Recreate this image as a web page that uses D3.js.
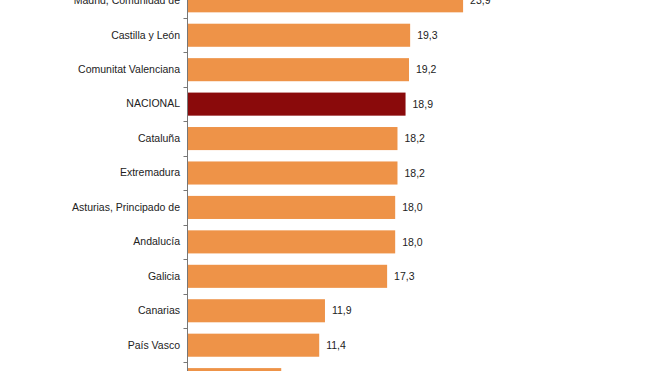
<!DOCTYPE html>
<html>
<head>
<meta charset="utf-8">
<script src="https://cdn.jsdelivr.net/npm/d3@7"></script>
<style>
html,body{margin:0;padding:0;background:#fff;}
svg{display:block;}
</style>
</head>
<body>
<svg id="chart" width="659" height="371"></svg>
<script>
const categories = ["Madrid, Comunidad de","Castilla y León","Comunitat Valenciana","NACIONAL","Cataluña","Extremadura","Asturias, Principado de","Andalucía","Galicia","Canarias","País Vasco","Navarra, Comunidad Foral de"];
const values = [23.9,19.3,19.2,18.9,18.2,18.2,18.0,18.0,17.3,11.9,11.4,8.1];
const highlight = ["NACIONAL"];

const svg = d3.select("#chart");
const step = 34.44;
const y0 = 0.8 - step/2;
const y = d3.scaleBand().domain(categories).range([y0, y0 + step*categories.length]).paddingInner(0.33).paddingOuter(0.165);
const x = d3.scaleLinear().domain([0, 25]).range([188, 188 + 25*11.51]);

const data = categories.map((c,i)=>({c, v: values[i]}));
const FONT = "Liberation Sans, Arial, sans-serif";

svg.selectAll("rect.bar").data(data).enter().append("rect")
  .attr("class","bar")
  .attr("x", x(0))
  .attr("y", d=>y(d.c))
  .attr("width", d=>x(d.v)-x(0))
  .attr("height", y.bandwidth())
  .attr("fill", d=> highlight.includes(d.c) ? "#8A0A0B" : "#EE9348");

svg.selectAll("text.val").data(data).enter().append("text")
  .attr("class","val")
  .attr("x", d=>x(d.v)+7)
  .attr("y", d=>y(d.c)+y.bandwidth()/2)
  .attr("dy","0.35em")
  .attr("font-family",FONT)
  .attr("font-size","10.5px")
  .attr("fill","#222")
  .text(d=>d3.format(".1f")(d.v).replace(".", ","));

// axis
const axisX = 187.5;
const axis = d3.axisLeft(y).tickSize(0).tickPadding(7);
const g = svg.append("g").attr("transform",`translate(${axisX-0.5},0)`).call(axis);
g.select(".domain").remove();
g.selectAll("text").attr("font-family",FONT).attr("font-size","10.5px").attr("fill","#222");

svg.append("line").attr("x1",axisX).attr("x2",axisX).attr("y1",y0).attr("y2",y0+step*categories.length).attr("stroke","#777").attr("stroke-width",1);
// tick marks at band boundaries
const bounds = d3.range(categories.length+1).map(i=> y0 + i*step);
svg.selectAll("line.tk").data(bounds).enter().append("line")
  .attr("x1",axisX-4).attr("x2",axisX).attr("y1",d=>Math.round(d)+0.5).attr("y2",d=>Math.round(d)+0.5)
  .attr("stroke","#777");
</script>
</body>
</html>
